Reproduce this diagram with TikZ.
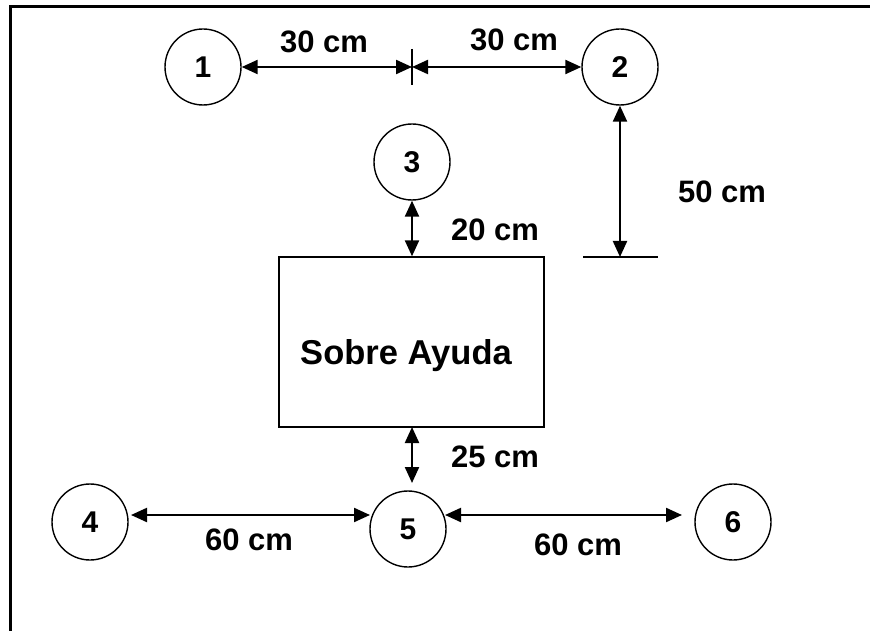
\documentclass[tikz,border=0pt]{standalone}
\usepackage{fontspec}
\setmainfont{Liberation Sans}
\usetikzlibrary{arrows.meta}
\begin{document}
\begin{tikzpicture}[x=1pt,y=-1pt,
  num/.style={draw,circle,minimum size=76pt,inner sep=0pt,line width=1.4pt,font=\bfseries\fontsize{30}{30}\selectfont},
  lbl/.style={font=\bfseries\fontsize{31}{31}\selectfont,inner sep=0pt},
  dimline/.style={line width=2.2pt,{Triangle[length=16pt,width=14pt]}-{Triangle[length=16pt,width=14pt]}},
  plain/.style={line width=2pt}]
\useasboundingbox (0,0) rectangle (870,631);
% frame
\draw[line width=3pt] (10,631) -- (10,7) -- (870,7);
% circles
\node[num] (c1) at (203,67) {1};
\node[num] (c2) at (620,67) {2};
\node[num] (c3) at (412,162) {3};
\node[num] (c4) at (90,522) {4};
\node[num] (c5) at (408,529) {5};
\node[num] (c6) at (733,522) {6};
% box
\node[draw,line width=1.4pt,minimum width=265pt,minimum height=170pt,inner sep=0pt] (box) at (411.5,342) {};
\node[font=\bfseries\fontsize{34.5}{34.5}\selectfont,inner sep=0pt,anchor=base] (boxtxt) at (406,364) {Sobre Ayuda};
% top dimension with tick
\coordinate (t) at (412,67);
\coordinate (tt) at (412,49);
\coordinate (tb) at (412,85);
\draw[plain] (tt) -- (tb);
\draw[dimline] (c1.east) -- (t);
\draw[dimline] (t) -- (c2.west);
% 50 cm
\coordinate (b2) at (620,257);
\coordinate (bl) at (583,257);
\coordinate (br) at (658,257);
\draw[plain] (bl) -- (br);
\draw[dimline] (c2.south) -- (b2);
% 20 cm
\draw[dimline] (c3.south) -- (c3.south |- box.north);
% 25 cm
\coordinate (a5t) at (412,427);
\coordinate (a5b) at (412,483);
\draw[dimline] (a5t) -- (a5b);
% bottom dims
\coordinate (l4) at (131,515);
\coordinate (r4) at (370,515);
\coordinate (l6) at (445,515);
\coordinate (r6) at (682,515);
\draw[dimline] (l4) -- (r4);
\draw[dimline] (l6) -- (r6);
% labels
\node[lbl] (d1) at (324,42) {30 cm};
\node[lbl] (d2) at (514,40) {30 cm};
\node[lbl] (d3) at (722,192) {50 cm};
\node[lbl] (d4) at (495,230) {20 cm};
\node[lbl] (d5) at (495,457) {25 cm};
\node[lbl] (d6) at (249,540) {60 cm};
\node[lbl] (d7) at (578,545) {60 cm};
\end{tikzpicture}
\end{document}
